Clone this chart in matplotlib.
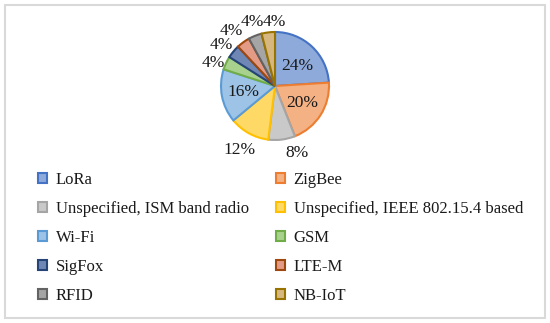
import numpy as np
import matplotlib
matplotlib.use('Agg')
import matplotlib.pyplot as plt
from matplotlib.patches import Rectangle

labels = ['LoRa', 'ZigBee', 'Unspecified, ISM band radio', 'Unspecified, IEEE 802.15.4 based',
          'Wi-Fi', 'GSM', 'SigFox', 'LTE-M', 'RFID', 'NB-IoT']
shares = [24, 20, 8, 12, 16, 4, 4, 4, 4, 4]
fills = ['#8eaadb', '#f4b183', '#c9c9c9', '#ffd966', '#9dc3e6',
         '#a9d18e', '#6f87b4', '#e39b86', '#a5a5a5', '#d6b77f']
edges = ['#4472c4', '#ed7d31', '#a5a5a5', '#ffc000', '#5b9bd5',
         '#70ad47', '#264478', '#9e480e', '#636363', '#997300']
# label placement: radius (fraction of pie radius) and angle shift from wedge middle (deg)
label_r = [0.56, 0.6, 1.3, 1.35, 0.6, 1.22, 1.25, 1.3, 1.25, 1.18]
label_shift = [-5, 0, 11, 0, 0, 5, 2, 3, -2, -7]

plt.rcParams['font.family'] = ['Liberation Serif', 'DejaVu Serif']

W, H = 550, 323
fig = plt.figure(figsize=(W / 100, H / 100), dpi=100)
fig.patch.set_facecolor('white')
fig.patches.append(Rectangle((5 / W, 5 / H), 540 / W, 313 / H, transform=fig.transFigure,
                             fill=False, edgecolor='#d9d9d9', lw=1.5))

cx, cy, r = 275, 86, 54
ax = fig.add_axes([(cx - r) / W, 1 - (cy + r) / H, 2 * r / W, 2 * r / H])
wedges, _ = ax.pie(shares, startangle=90, counterclock=False, radius=1,
                   wedgeprops=dict(linewidth=1.5))
for w, fc, ec in zip(wedges, fills, edges):
    w.set_facecolor(fc)
    w.set_edgecolor(ec)
for w, v, d, s in zip(wedges, shares, label_r, label_shift):
    ang = np.deg2rad((w.theta1 + w.theta2) / 2 + s)
    ax.text(d * np.cos(ang), d * np.sin(ang), f'{v}%', ha='center', va='center',
            fontsize=12.5, color='#1a1a1a')
ax.set_xlim(-1, 1)
ax.set_ylim(-1, 1)
ax.set_aspect('equal')
ax.axis('off')

leg_kw = dict(frameon=False, fontsize=12, handlelength=0.55, handleheight=0.55,
              handletextpad=0.5, labelspacing=0.78, borderaxespad=0, borderpad=0)
l1 = fig.legend([wedges[i] for i in range(0, 10, 2)], [labels[i] for i in range(0, 10, 2)],
                loc='upper left', bbox_to_anchor=(38 / W, 1 - 172 / H), **leg_kw)
l2 = fig.legend([wedges[i] for i in range(1, 10, 2)], [labels[i] for i in range(1, 10, 2)],
                loc='upper left', bbox_to_anchor=(276 / W, 1 - 172 / H), **leg_kw)
for leg in (l1, l2):
    for t in leg.get_texts():
        t.set_color('#1a1a1a')

fig.savefig('out.png', dpi=100, facecolor='white')
